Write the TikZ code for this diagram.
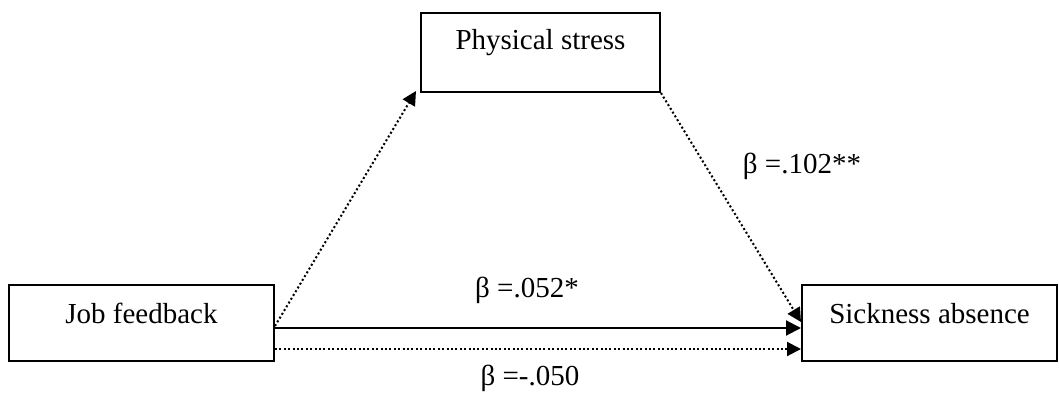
\documentclass[tikz,border=0pt]{standalone}
\usepackage{fontspec}
\setmainfont{Liberation Serif}
\usetikzlibrary{arrows.meta}
\begin{document}
\begin{tikzpicture}[x=1pt,y=1pt,
  box/.style={draw,line width=2pt,inner xsep=0pt,inner ysep=0pt,anchor=base,
    font=\fontsize{29}{34}\selectfont},
  lbl/.style={anchor=base,font=\fontsize{29}{34}\selectfont,inner sep=0pt},
  arr/.style={line width=2pt,-{Triangle[length=15pt,width=15pt]}},
  dotarr/.style={line width=2pt,dash pattern=on 2pt off 2.4pt,-{Triangle[length=14pt,width=14pt]}}]
\useasboundingbox (0,0) rectangle (1059,392);
\node[box,minimum width=265pt,text height=38pt,text depth=38pt] (jf) at (141.5,69) {Job feedback};
\node[box,minimum width=255pt,text height=38pt,text depth=38pt] (sa) at (929.5,69) {Sickness absence};
\node[box,minimum width=239pt,text height=37pt,text depth=42pt] (ps) at (540.5,342) {Physical stress};
\draw[arr] ([yshift=-5pt]jf.east) -- ([yshift=-5pt]sa.west);
\draw[dotarr] ([yshift=-26pt]jf.east) -- ([yshift=-26pt]sa.west);
\draw[dotarr] ([yshift=-3pt]jf.east) -- ([xshift=-4pt,yshift=2pt]ps.south west);
\draw[dotarr] (ps.south east) -- ([yshift=1pt]sa.west);
\node[lbl] (l1) at (802,219) {β =.102**};
\node[lbl] (l2) at (527,95) {β =.052*};
\node[lbl] (l3) at (530,7) {β =-.050};
\end{tikzpicture}
\end{document}
